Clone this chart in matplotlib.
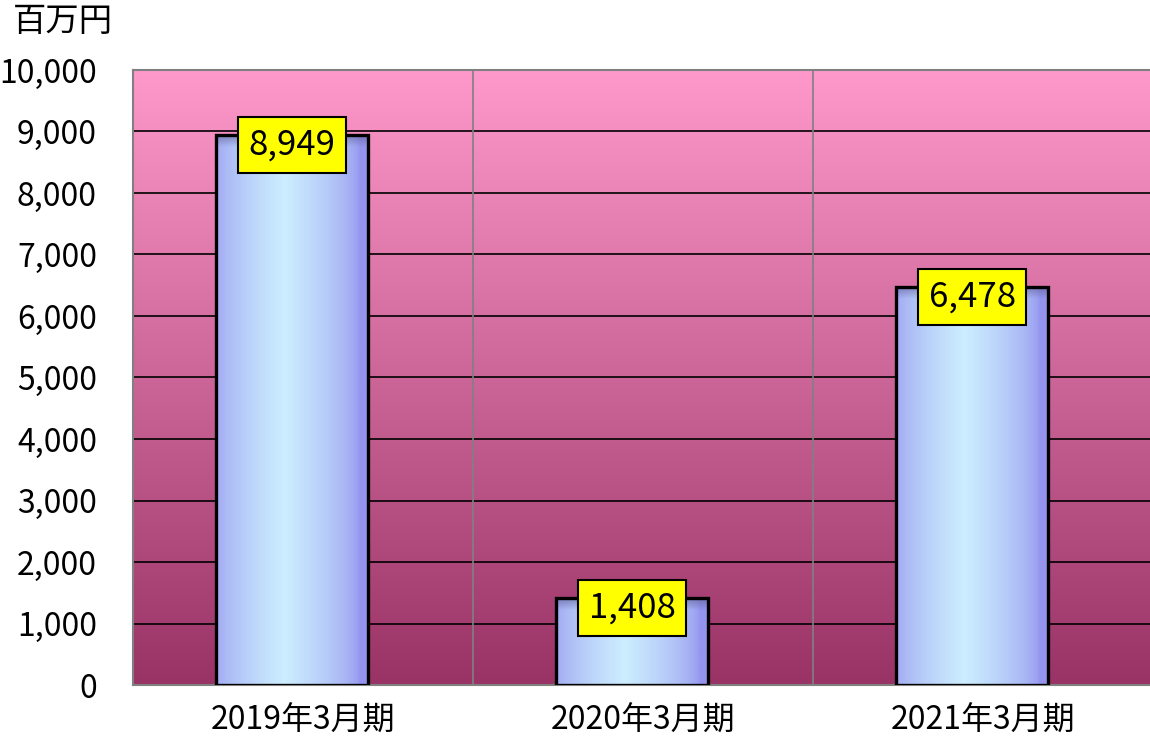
import numpy as np
import matplotlib
matplotlib.use('Agg')
import matplotlib.pyplot as plt
from matplotlib.colors import LinearSegmentedColormap, to_rgb
from matplotlib.patches import Rectangle

plt.rcParams['font.family'] = ['Noto Sans CJK JP', 'DejaVu Sans']

categories = ['2019年3月期', '2020年3月期', '2021年3月期']
values = [8949, 1408, 6478]
yticks = [0, 1000, 2000, 3000, 4000, 5000, 6000, 7000, 8000, 9000, 10000]

W, H = 1150, 744
fig = plt.figure(figsize=(W / 100, H / 100), dpi=100)
# plot area in pixels: x 133..1153, y 70..685
ax = fig.add_axes([133 / W, 1 - 685 / H, 1020 / W, 615 / H])
ax.set_xlim(-0.5, 2.5)
ax.set_ylim(0, 10000)

# background gradient: pink at top, dark magenta at bottom
bg = LinearSegmentedColormap.from_list('bg', ['#993366', '#FF99CC'])
ax.imshow(np.linspace(0, 1, 256).reshape(-1, 1), cmap=bg, origin='lower',
          extent=[0, 1, 0, 1], transform=ax.transAxes, aspect='auto', zorder=0)

for t in yticks[1:-1]:
    ax.axhline(t, color='black', lw=1.2, zorder=1)
for xv in [0.5, 1.5]:
    ax.axvline(xv, color='#808080', lw=1.2, zorder=1)

# bar fill: horizontal gradient with a darker band along the top
edge_c = np.array(to_rgb('#9494EE'))
mid_c = np.array(to_rgb('#CCEEFF'))
top_c = np.array(to_rgb('#5A5A90'))
xs = np.linspace(0, 1, 120)
prof = np.clip(1 - np.abs(xs - 0.45) / 0.5, 0, 1) ** 0.6
row = edge_c[None, :] * (1 - prof[:, None]) + mid_c[None, :] * prof[:, None]

bar_w = 0.447
shift = -0.032
px_per_unit = 615 / 10000
for i, v in enumerate(values):
    xc = i + shift
    nrows = 300
    ys = np.linspace(0, v, nrows)
    dist_px = (v - ys) * px_per_unit
    shade = np.clip(1 - dist_px / 12, 0, 1)[:, None, None] * 0.6
    img = row[None, :, :] * (1 - shade) + top_c[None, None, :] * shade
    rect = Rectangle((xc - bar_w / 2, 0), bar_w, v, facecolor='none',
                     edgecolor='black', lw=2.4, zorder=4)
    ax.add_patch(rect)
    im = ax.imshow(img, origin='lower', extent=[xc - bar_w / 2, xc + bar_w / 2, 0, v],
                   aspect='auto', zorder=3, interpolation='bilinear')
    im.set_clip_path(rect)
    ax.annotate(f'{v:,}', (xc, v), xytext=(0, -10), textcoords='offset pixels',
                ha='center', va='center', fontsize=25, zorder=6,
                bbox=dict(boxstyle='square,pad=0.3', fc='#FFFF00', ec='black', lw=1.5))

ax.set_xlim(-0.5, 2.5)
ax.set_ylim(0, 10000)
ax.set_yticks(yticks)
ax.set_yticklabels([f'{t:,}' for t in yticks], fontsize=23)
ax.set_xticks(range(len(categories)))
ax.set_xticklabels(categories, fontsize=23)
ax.tick_params(axis='y', length=0, pad=26)
ax.tick_params(axis='x', length=0, pad=14)
for s in ['left', 'top', 'bottom']:
    ax.spines[s].set_color('#808080')
    ax.spines[s].set_linewidth(1.5)
ax.spines['right'].set_visible(False)

fig.text(13 / W, 1 - 22 / H, '百万円', fontsize=24, va='center', ha='left')

fig.savefig('out.png', dpi=100)
